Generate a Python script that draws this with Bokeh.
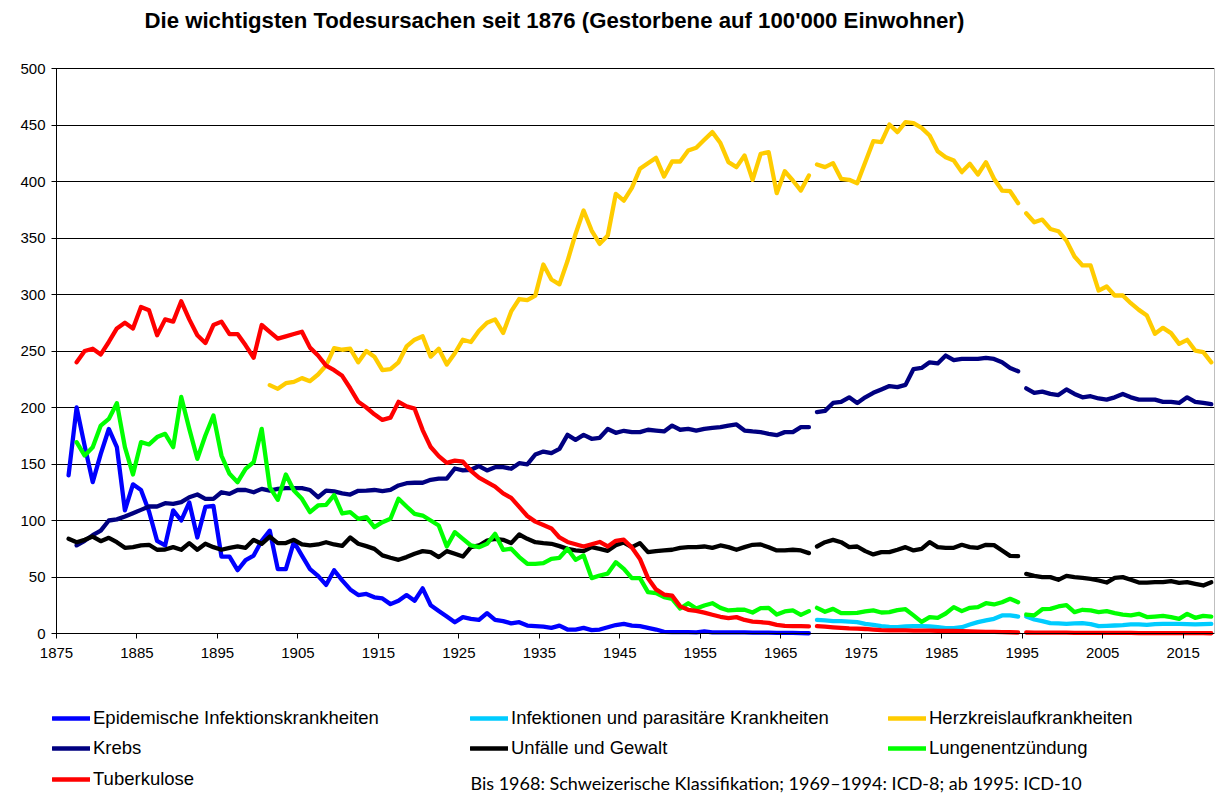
from bokeh.plotting import figure
from bokeh.models import (Range1d, FixedTicker, CustomJSTickFormatter, Legend, LegendItem,
                          Label, LinearAxis)
from bokeh.embed import file_html
from bokeh.resources import INLINE

# ---------------- data (deaths per 100'000 inhabitants) ----------------
tick_years = list(range(1875, 2016, 10))
y_ticks = list(range(0, 501, 50))

epidemic_1876_1968 = [
    140, 200, 166, 134,
    159, 181, 165, 109, 132, 127, 108, 82, 78, 109,
    100, 116, 85, 112, 113, 68, 68, 56, 65, 69,
    82, 91, 57, 57, 81, 69, 57, 51, 43, 56,
    47, 39, 34, 35, 32, 31, 26, 29, 34, 29,
    40, 25, 20, 15, 10, 14.5, 13, 12, 18, 12,
    11, 9, 10, 7, 6.5, 6, 5, 7, 3.5, 3.5,
    5, 3, 3.5, 5.5, 7.5, 8.5, 7, 6.5, 5, 3.5,
    1.5, 1.2, 1.2, 1.2, 1, 1.8, 1, 1, 1, 1,
    1, 0.8, 0.8, 0.8, 0.6, 0.6, 0.5, 0.3, 0.2]

infections_1969_1994 = [12.1, 11.6, 11, 11, 10.6, 10.1, 8.6, 7.7, 6.5, 5.8, 5.6, 6.2, 6.5,
                        6.5, 6.2, 5.6, 4.7, 4.7, 5.6, 7.9, 10.1, 11.6, 13, 16, 16, 15]
infections_1995_2018 = [15, 12.4, 11, 9.2, 8.9, 8.6, 8.9, 9.2, 8.3, 6.5, 6.8, 7.1, 7.4, 8,
                        8, 7.7, 8.3, 8.6, 8.6, 8.6, 8.3, 8, 8.3, 8.6]

cardio_1901_1968 = [
    219.8, 216.5, 221.5, 222.7, 226, 223.3, 229.2, 237.2, 252.5,
    251.1, 252, 240, 250, 245, 233, 234, 240, 254, 260,
    263, 245, 252, 238, 248, 260, 258, 268, 275, 278,
    266, 285, 296, 295, 299, 326.5, 313.3, 309, 329.6, 353.6,
    374.3, 356.6, 344.8, 352.2, 389, 383, 394.4, 411.2, 416.2, 420.9,
    404.4, 417.7, 417.7, 427.4, 429.8, 436.9, 443.7, 434, 417.1, 412.7,
    423, 401.5, 424.5, 426, 389.7, 409.1, 400.9, 392, 405.3]
cardio_1969_1994 = [415.1, 412.7, 416.2, 402.4, 401.5, 398.5, 417.1, 435.7, 434.8, 450.4,
                    443.7, 452.5, 451.6, 447.5, 440.7, 426.8, 421.5, 418.6, 408.3, 415.6,
                    406.2, 417.1, 402.4, 392, 391.4, 380.8]
cardio_1995_2018 = [371.9, 363.9, 366.3, 358, 356, 347.7, 333.6, 325.7, 325.7, 303.5,
                    307.1, 299.1, 299.1, 292.3, 286.4, 281.4, 265.2, 270.5, 265.8, 256.3,
                    259.9, 250.4, 249, 240]

cancer_1877_1968 = [
    78, 82, 87,
    91, 100, 101, 103.5, 106.5, 109.4, 112.4, 112.4, 115.3, 114.7,
    116.2, 120.6, 123, 119.2, 119.2, 125, 123.6, 127, 127, 125,
    128, 126.5, 128, 128.6, 128.6, 128.6, 127, 120.6, 126.5, 125.7,
    124, 123, 126.3, 126.5, 127, 126, 127, 131, 133, 133.4,
    133.4, 136, 137, 137, 146, 144.3, 144.9, 148.2, 144.3, 147.2,
    147.2, 145.8, 150.7, 149.6, 158.4, 161, 159.6, 163.4, 175.8, 171.4,
    175.8, 172.3, 173.2, 181, 177.6, 179.4, 178.2, 178.2, 180.3, 179.6,
    178.8, 184, 180.3, 181.1, 179.6, 181.1, 182, 182.6, 184, 185,
    179.6, 178.8, 178.2, 176.7, 175.5, 178.2, 178.2, 182.6, 182.6]
cancer_1969_1994 = [196, 197, 204, 205, 209, 204, 209, 213, 216, 219, 218, 220, 234,
                    235, 240, 239, 246, 242, 243, 243, 243, 244, 243, 240, 235, 232]
cancer_1995_2018 = [217, 213, 214, 212, 211, 216, 212, 209, 210, 208, 207, 209, 212,
                    209, 207, 207, 207, 205, 205, 204, 209, 205, 204, 203]

accidents_1876_1968 = [
    83.8, 80.8, 82.9, 85.8,
    81.7, 84.7, 80.8, 75.8, 76.4, 77.9, 78.5, 74.1, 74.3, 76.4,
    74.1, 80, 74.1, 79.4, 76.4, 74.1, 75.8, 77, 75.8, 82.9,
    79.4, 85.8, 80, 80, 82.9, 78.8, 77.9, 78.8, 80.8, 78.8,
    77.5, 85, 79.4, 77.3, 74.9, 69.1, 67, 65.2, 67.6, 70.5,
    72.9, 72, 67.6, 72.9, 70.5, 68.1, 76.4, 77.9, 82.3, 83.8,
    82.9, 80, 87.6, 83.8, 80.8, 80, 79.4, 77.3, 74.9, 73.5,
    72.9, 76.4, 74.9, 73.2, 78.2, 80.5, 76.4, 80, 72, 72.9,
    73.5, 74.1, 75.8, 76.4, 76.4, 77, 75.8, 77.9, 76.4, 74.1,
    76.4, 78.5, 78.8, 76.4, 73.5, 73.5, 74.1, 73.5, 71.1]
accidents_1969_1994 = [77, 80.8, 82.9, 80.8, 76.4, 77, 72.9, 70, 72, 72, 74.1, 76.4, 73.5,
                       74.9, 80.8, 76.4, 75.8, 75.8, 78.5, 76.4, 75.8, 78.5, 78.2, 73.5, 68.7, 68.4]
accidents_1995_2018 = [52.8, 51, 49.9, 49.9, 47.5, 51, 49.9, 49.3, 48.4, 46.9, 45.1, 49.3,
                       49.9, 47.5, 45.1, 45.1, 45.4, 45.4, 46.3, 44.8, 45.4, 43.9, 42.5, 45.4]

pneumonia_1877_1968 = [
    169.3, 157.5, 164.9,
    184, 189.9, 203.8, 165, 140.7, 169.3, 167.3, 173.8, 176.7, 164.9,
    209.3, 181.1, 154.6, 175.2, 192.9, 157.5, 141.3, 133.9, 145.7, 151.6,
    181.1, 129.5, 118.3, 140.7, 126.5, 119.2, 107.4, 113.3, 113.9, 122.5,
    106.2, 107.4, 101.5, 103, 94.1, 98.5, 101.5, 119.2, 112.4, 105.9,
    104.4, 100, 95.6, 77, 89.7, 83.8, 77.9, 76.4, 79.4, 88.2,
    74.1, 75, 67.6, 61.7, 61.7, 62.2, 66.1, 67, 75, 65.2,
    69.1, 49, 51.3, 53, 63.1, 57.2, 49, 49, 36.6, 35.7,
    32.2, 30.7, 22.1, 26.8, 22.1, 24.8, 26.8, 22.7, 20.4, 21,
    21, 18.6, 22.4, 22.7, 16.8, 19.5, 20.4, 16.5, 19.8]
pneumonia_1969_1994 = [22.7, 19.2, 21.8, 18, 18, 18.3, 19.5, 20.4, 18.6, 18.9, 20.7, 21.5, 16,
                       10.3, 14.5, 13.9, 17.7, 23.3, 19.8, 22.7, 23.3, 26.8, 25.7, 27.7, 30.7, 27.7]
pneumonia_1995_2018 = [16.8, 16, 21.5, 21.8, 23.9, 25.1, 18.9, 21, 20.4, 18.9, 19.8, 18,
                       16.8, 16, 17.4, 14.5, 15, 15.6, 14.5, 13, 17.4, 13.9, 15.6, 15]

tb_1877_1968 = [
    240, 250, 252,
    247, 258, 270, 275, 270, 289, 286, 264, 278, 276,
    294, 278, 264, 257, 273, 276, 265, 265, 255, 244,
    273, 267, 261, 263, 265, 267, 253, 246, 237, 233,
    228, 217, 205, 200, 194, 189, 191, 205, 201, 199,
    180, 165, 157, 151, 153, 152, 144, 138, 134, 130,
    124, 120, 112, 104, 99, 96, 93, 85, 81, 79,
    77, 79, 81, 77, 82, 83, 76, 66, 49, 39,
    34.5, 33.5, 24, 21, 20, 18.4, 16.6, 14.8, 13.6, 14.5,
    12, 10.6, 10, 9.4, 7.7, 6.8, 6.5, 6.5, 6.3]
tb_1969_1994 = [6.5, 6, 5.5, 5, 4.5, 4.3, 4, 3.5, 3, 2.8, 2.7, 2.7, 2.6, 2.6, 2.5, 2.4,
                2.3, 2.2, 2, 1.8, 1.6, 1.5, 1.4, 1.3, 1.1, 0.9]
tb_1995_2018 = [0.9, 0.8, 0.8, 0.7, 0.7, 0.7, 0.6, 0.6, 0.6, 0.5, 0.5, 0.5, 0.5, 0.5,
                0.4, 0.4, 0.4, 0.4, 0.3, 0.3, 0.3, 0.3, 0.3, 0.2]

names = ["Epidemische Infektionskrankheiten", "Infektionen und parasitäre Krankheiten",
         "Herzkreislaufkrankheiten", "Krebs", "Unfälle und Gewalt", "Lungenentzündung",
         "Tuberkulose"]
colors = ["#0000FF", "#00CCFF", "#FFCC00", "#000080", "#000000", "#00FF00", "#FF0000"]
periods = [
    [(1876, 1968, epidemic_1876_1968)],
    [(1969, 1994, infections_1969_1994), (1995, 2018, infections_1995_2018)],
    [(1901, 1968, cardio_1901_1968), (1969, 1994, cardio_1969_1994), (1995, 2018, cardio_1995_2018)],
    [(1877, 1968, cancer_1877_1968), (1969, 1994, cancer_1969_1994), (1995, 2018, cancer_1995_2018)],
    [(1876, 1968, accidents_1876_1968), (1969, 1994, accidents_1969_1994), (1995, 2018, accidents_1995_2018)],
    [(1877, 1968, pneumonia_1877_1968), (1969, 1994, pneumonia_1969_1994), (1995, 2018, pneumonia_1995_2018)],
    [(1877, 1968, tb_1877_1968), (1969, 1994, tb_1969_1994), (1995, 2018, tb_1995_2018)],
]
note = "Bis 1968: Schweizerische Klassifikation; 1969\u20131994: ICD-8; ab 1995: ICD-10"
title = "Die wichtigsten Todesursachen seit 1876 (Gestorbene auf 100'000 Einwohner)"

# ---------------- figure ----------------
# The frame covers the whole picture so that title, legend, note and tick labels
# (all drawn inside it) are not clipped; both axes sit at fixed data locations.
W, H = 1216, 797
AXIS_X, RIGHT = 56, 2          # pixel position of the value axis, right margin
X0, X1 = 1874.5, 2018.4        # plot-area limits in years
PX_PER_YEAR = (W - RIGHT - AXIS_X) / (X1 - X0)
PX_PER_UNIT = 1.13             # 0 -> y=633, 500 -> y=68
ZERO_Y = 633
FONT = "Liberation Sans"

p = figure(width=W, height=H, output_backend="svg", toolbar_location=None,
           x_range=Range1d(X0 - AXIS_X / PX_PER_YEAR, X1),
           y_range=Range1d(-(H - ZERO_Y) / PX_PER_UNIT, ZERO_Y / PX_PER_UNIT),
           min_border_left=0, min_border_right=RIGHT, min_border_top=0, min_border_bottom=0,
           background_fill_color="white", border_fill_color="white")
p.outline_line_color = None

p.xaxis.fixed_location = 0
p.xaxis.bounds = (X0, X1)
p.xaxis.ticker = FixedTicker(ticks=[t - 0.5 for t in tick_years])
p.xaxis.formatter = CustomJSTickFormatter(code="return String(Math.round(tick + 0.5));")
p.yaxis.fixed_location = X0
p.yaxis.bounds = (0, 500)
p.yaxis.ticker = FixedTicker(ticks=y_ticks)
for ax in (p.xaxis, p.yaxis):
    ax.axis_line_color = "black"
    ax.axis_line_width = 1
    ax.major_tick_line_color = "black"
    ax.major_tick_out = 5
    ax.major_tick_in = 0
    ax.minor_tick_out = 0
    ax.minor_tick_in = 0
    ax.major_label_text_font = FONT
    ax.major_label_text_font_size = "15px"
    ax.major_label_text_color = "black"
p.xaxis.major_label_standoff = 9
p.yaxis.major_label_standoff = 6
# horizontal grid lines = value-axis ticks running across the plot area, under the data
p.yaxis.major_tick_in = int(round(W - RIGHT - AXIS_X))
p.yaxis.level = "underlay"
p.xgrid.grid_line_color = None
p.ygrid.grid_line_color = None

# right border of the plot area
border = LinearAxis(fixed_location=X1, ticker=FixedTicker(ticks=[]), bounds=(0, 500),
                    axis_line_color="#808080", major_tick_out=0, major_tick_in=0,
                    minor_tick_out=0, minor_tick_in=0)
p.add_layout(border, "right")

renderers = {}
for name, color, segs in zip(names, colors, periods):
    for (y0, y1, vals) in segs:
        assert len(vals) == y1 - y0 + 1, (name, y0, len(vals))
        r = p.line(list(range(y0, y1 + 1)), vals, line_color=color, line_width=4.3,
                   line_cap="round", line_join="round")
        renderers.setdefault(name, r)

# legend rows (screen offsets measured from the frame's bottom-left corner)
rows = [[0, 1, 2], [3, 4, 5], [6]]
row_tops = [709, 739, 770]
for idx, top in zip(rows, row_tops):
    leg = Legend(items=[LegendItem(label=names[i], renderers=[renderers[names[i]]]) for i in idx],
                 location=(52, H - 20 - top), orientation="horizontal",
                 glyph_width=38, glyph_height=20, label_height=20, label_width=377,
                 label_standoff=3, spacing=0, padding=0, margin=0,
                 border_line_color=None, background_fill_alpha=0,
                 label_text_font=FONT, label_text_font_size="18.5px", label_text_color="black")
    p.add_layout(leg)

p.add_layout(Label(x=470, y=H - 782, x_units="screen", y_units="screen", text=note,
                   text_font="Lato", text_font_size="18px", text_baseline="middle",
                   text_color="black"))
p.add_layout(Label(x=144, y=H - 20, x_units="screen", y_units="screen", text=title,
                   text_font=FONT, text_font_size="22.2px", text_font_style="bold",
                   text_baseline="middle", text_color="black"))

open("out.html", "w").write(file_html(p, INLINE))
